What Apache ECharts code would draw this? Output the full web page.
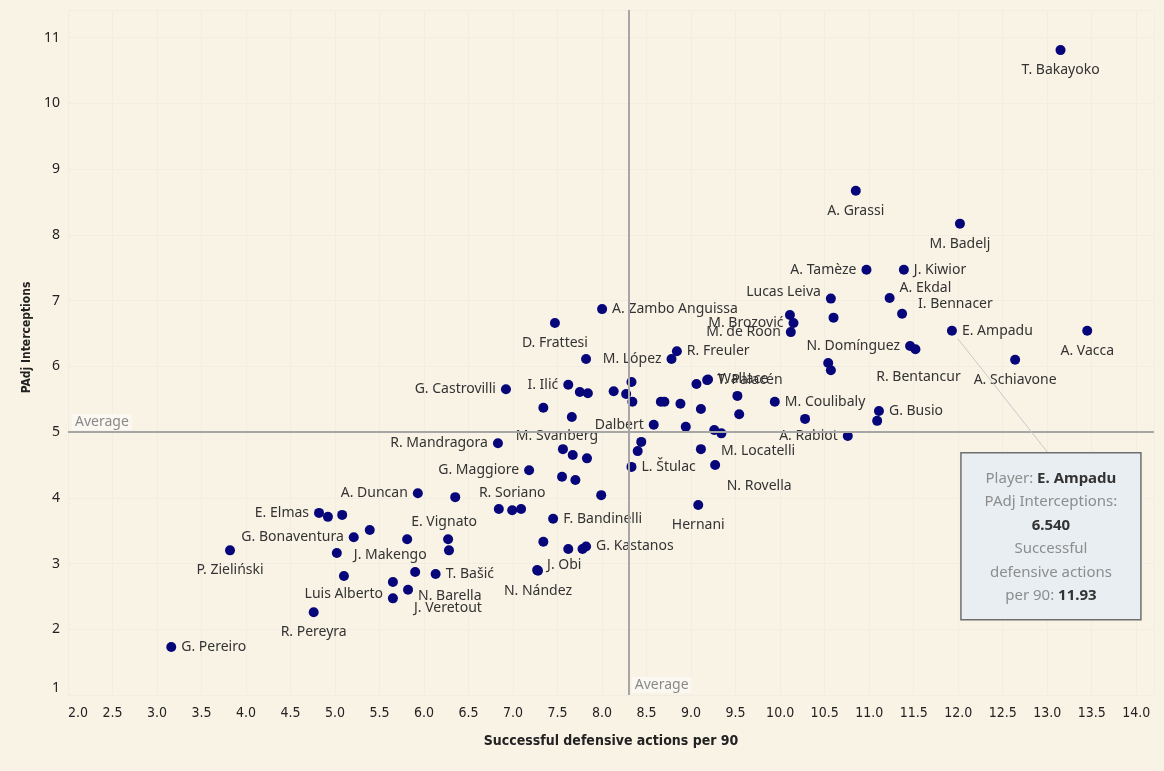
<!DOCTYPE html>
<html>
<head>
<meta charset="utf-8">
<script src="https://cdn.jsdelivr.net/npm/echarts@6/dist/echarts.min.js"></script>
<style>
  html, body { margin: 0; padding: 0; background: #f9f3e6; }
  #chart { width: 1164px; height: 771px; }
</style>
</head>
<body>
<div id="chart"></div>
<script>
// player names ('' = point shown without a label)
const players = [
  'T. Bakayoko', 'A. Grassi', 'M. Badelj', 'A. Tamèze', 'J. Kiwior', 'A. Ekdal', 'I. Bennacer', 'Lucas Leiva',
  '', '', 'M. Brozović', 'M. de Roon', 'E. Ampadu', 'A. Vacca', 'A. Schiavone', 'N. Domínguez',
  'R. Bentancur', '', '', 'M. Coulibaly', 'G. Busio', '', '', 'A. Rabiot',
  '', '', '', '', 'T. Palacén', 'Wallace', '', '',
  '', '', '', '', 'M. Locatelli', 'N. Rovella', 'Hernani', 'Dalbert',
  'L. Štulac', '', '', '', '', '', '', 'M. López',
  'R. Freuler', 'A. Zambo Anguissa', 'D. Frattesi', '', 'I. Ilić', 'G. Castrovilli', '', '',
  '', '', 'M. Svanberg', '', '', 'R. Mandragora', 'G. Maggiore', '',
  '', '', 'R. Soriano', '', '', 'A. Duncan', '', 'E. Elmas',
  '', '', 'G. Bonaventura', '', 'P. Zieliński', 'J. Makengo', 'E. Vignato', '',
  '', '', 'T. Bašić', '', 'Luis Alberto', 'N. Barella', 'J. Veretout', 'R. Pereyra',
  'G. Pereiro', 'J. Obi', 'N. Nández', 'F. Bandinelli', '', '', '', 'G. Kastanos'
];

// Successful defensive actions per 90
const defActions = [
  13.15, 10.85, 12.02, 10.97, 11.39, 11.23, 11.37, 10.57,
  10.60, 10.11, 10.15, 10.12, 11.93, 13.45, 12.64, 11.46,
  11.52, 10.54, 10.57, 9.94, 11.11, 11.09, 10.28, 10.76,
  9.52, 9.54, 9.11, 9.06, 9.18, 9.19, 8.88, 8.66,
  8.70, 8.94, 9.26, 9.34, 9.11, 9.27, 9.08, 8.58,
  8.33, 8.44, 8.40, 8.33, 8.27, 8.34, 8.13, 8.78,
  8.84, 8.00, 7.47, 7.82, 7.62, 6.92, 7.75, 7.84,
  7.34, 7.66, 7.56, 7.67, 7.83, 6.83, 7.18, 7.55,
  7.70, 7.99, 6.99, 6.84, 7.09, 5.93, 6.35, 4.82,
  4.92, 5.08, 5.21, 5.39, 3.82, 5.02, 6.27, 5.81,
  6.28, 5.10, 6.13, 5.90, 5.65, 5.82, 5.65, 4.76,
  3.16, 7.27, 7.28, 7.45, 7.34, 7.62, 7.78, 7.82
];

// PAdj Interceptions
const interceptions = [
  10.81, 8.67, 8.17, 7.47, 7.47, 7.04, 6.80, 7.03,
  6.74, 6.78, 6.66, 6.52, 6.54, 6.54, 6.10, 6.31,
  6.26, 6.05, 5.94, 5.46, 5.32, 5.17, 5.20, 4.94,
  5.55, 5.27, 5.35, 5.73, 5.79, 5.80, 5.43, 5.46,
  5.46, 5.08, 5.03, 4.98, 4.74, 4.50, 3.89, 5.11,
  4.47, 4.85, 4.71, 5.76, 5.58, 5.46, 5.62, 6.11,
  6.23, 6.87, 6.66, 6.11, 5.72, 5.65, 5.61, 5.59,
  5.37, 5.23, 4.74, 4.65, 4.60, 4.83, 4.42, 4.32,
  4.27, 4.04, 3.81, 3.83, 3.83, 4.07, 4.01, 3.77,
  3.71, 3.74, 3.40, 3.51, 3.20, 3.16, 3.37, 3.37,
  3.20, 2.81, 2.84, 2.87, 2.72, 2.60, 2.47, 2.26,
  1.73, 2.90, 2.89, 3.68, 3.33, 3.22, 3.22, 3.26
];

const avgDefActions = 8.30;
const avgInterceptions = 5.0;
const highlighted = 'E. Ampadu';

// label placement (default: right of the point)
const labelPlace = {
  'T. Bakayoko': ['bottom'], 'A. Grassi': ['bottom'], 'M. Badelj': ['bottom'], 'A. Vacca': ['bottom'],
  'A. Schiavone': ['bottom'], 'D. Frattesi': ['bottom'], 'P. Zieliński': ['bottom'], 'R. Pereyra': ['bottom'],
  'Hernani': ['bottom'], 'N. Nández': ['bottom'], 'R. Bentancur': ['bottom', [3, 8]],
  'N. Rovella': ['bottom', [44, 1]], 'J. Veretout': ['bottom', [55, -10]],
  'M. Svanberg': ['top', [-6, 4]], 'R. Soriano': ['top'], 'E. Vignato': ['top', [-4, 0]],
  'A. Tamèze': ['left'], 'M. Brozović': ['left'], 'M. de Roon': ['left'], 'N. Domínguez': ['left'],
  'A. Rabiot': ['left'], 'Dalbert': ['left'], 'M. López': ['left'], 'I. Ilić': ['left'],
  'G. Castrovilli': ['left'], 'R. Mandragora': ['left'], 'G. Maggiore': ['left'], 'A. Duncan': ['left'],
  'E. Elmas': ['left'], 'G. Bonaventura': ['left'], 'Luis Alberto': ['left', [0, 12]],
  'Lucas Leiva': ['left', [0, -7]],
  'A. Ekdal': ['right', [0, -10]], 'I. Bennacer': ['right', [6, -10]], 'N. Barella': ['right', [0, 6]],
  'J. Makengo': ['right', [7, 2]], 'M. Locatelli': ['right', [10, 2]], 'J. Obi': ['right', [0, -5]]
};

const labelFont = '"Noto Sans", sans-serif';
const titleFont = '"Liberation Sans Narrow", "DejaVu Sans Condensed", sans-serif';

const seriesData = players.map((name, i) => {
  const place = labelPlace[name] || ['right'];
  return {
    name: name,
    value: [defActions[i], interceptions[i]],
    label: {
      show: name !== '',
      position: place[0],
      offset: place[1] || [0, 0],
      distance: place[0] === 'bottom' ? 8 : 5
    }
  };
});

const chart = echarts.init(document.getElementById('chart'));

const option = {
  backgroundColor: '#f9f3e6',
  animation: false,
  grid: { left: 68, right: 10, top: 10, bottom: 76 },
  xAxis: {
    type: 'value',
    min: 2,
    max: 14.2,
    interval: 0.5,
    name: 'Successful defensive actions per 90',
    nameLocation: 'middle',
    nameGap: 39,
    nameTextStyle: { fontFamily: titleFont, fontWeight: 'bold', fontSize: 14, color: '#222' },
    axisLine: { show: false },
    axisTick: { show: false },
    axisLabel: {
      margin: 11,
      fontFamily: titleFont,
      fontSize: 14,
      color: '#222',
      alignMinLabel: 'left',
      formatter: v => (Math.abs(v * 2 - Math.round(v * 2)) < 1e-6 ? v.toFixed(1) : '')
    },
    splitLine: { lineStyle: { color: '#f2ede2', width: 1 } }
  },
  yAxis: {
    type: 'value',
    min: 1,
    max: 11.42,
    interval: 1,
    name: 'PAdj Interceptions',
    nameLocation: 'middle',
    nameGap: 22,
    nameTextStyle: { fontFamily: titleFont, fontWeight: 'bold', fontSize: 12, color: '#222', padding: [0, 0, 0, 30] },
    axisLine: { show: false },
    axisTick: { show: false },
    axisLabel: {
      margin: 8,
      fontFamily: labelFont,
      fontSize: 14,
      color: '#222',
      verticalAlignMinLabel: 'bottom',
      formatter: v => (Number.isInteger(v) ? String(v) : '')
    },
    splitLine: { lineStyle: { color: '#f2ede2', width: 1 } }
  },
  series: [{
    type: 'scatter',
    symbolSize: 10,
    itemStyle: { color: '#06067a', opacity: 1 },
    label: { fontFamily: labelFont, fontSize: 14, color: '#333', formatter: '{b}' },
    data: seriesData,
    markLine: {
      silent: true,
      symbol: 'none',
      label: { show: false },
      lineStyle: { color: '#a6a6a6', width: 2, type: 'solid' },
      data: [{ xAxis: avgDefActions }, { yAxis: avgInterceptions }]
    }
  }]
};
chart.setOption(option);

// annotations placed from the chart's own scales
const toPx = v => chart.convertToPixel({ xAxisIndex: 0, yAxisIndex: 0 }, v);
const hIdx = players.indexOf(highlighted);
const hPt = toPx([defActions[hIdx], interceptions[hIdx]]);
const hAvg = toPx([2, avgInterceptions]);
const vAvg = toPx([avgDefActions, 1]);

const boxLeft = hPt[0] + 9, boxTop = hPt[1] + 122, boxW = 180, boxH = 167;

chart.setOption({
  graphic: [
    {
      type: 'text', left: hAvg[0] + 4, top: hAvg[1] - 18, z: 10,
      style: { text: 'Average', fontFamily: labelFont, fontSize: 14, fill: '#8a8a8a', backgroundColor: '#fbf8f1', padding: [1, 3] }
    },
    {
      type: 'text', left: vAvg[0] + 3, top: vAvg[1] - 18, z: 10,
      style: { text: 'Average', fontFamily: labelFont, fontSize: 14, fill: '#8a8a8a', backgroundColor: '#fbf8f1', padding: [1, 3] }
    },
    {
      type: 'line', z: 20,
      shape: { x1: hPt[0] + 6, y1: hPt[1] + 8, x2: boxLeft + 87, y2: boxTop },
      style: { stroke: '#c8c8c8', lineWidth: 1 }
    },
    {
      type: 'rect', z: 21,
      shape: { x: boxLeft, y: boxTop, width: boxW, height: boxH },
      style: { fill: '#e8eef2', stroke: '#6f6f6f', lineWidth: 1.5 }
    },
    {
      type: 'text', z: 22,
      x: boxLeft + boxW / 2, y: boxTop + 14,
      style: {
        text: '{l|Player: }{v|' + highlighted + '}\n{l|PAdj Interceptions:}\n{v|' + interceptions[hIdx].toFixed(3) + '}\n{l|Successful}\n{l|defensive actions}\n{l|per 90: }{v|' + defActions[hIdx].toFixed(2) + '}',
        align: 'center',
        verticalAlign: 'top',
        lineHeight: 23.5,
        rich: {
          l: { fontFamily: labelFont, fontSize: 15, fill: '#8d8d8d', lineHeight: 23.5 },
          v: { fontFamily: labelFont, fontSize: 15, fill: '#333', fontWeight: 'bold', lineHeight: 23.5 }
        }
      }
    }
  ]
});
</script>
</body>
</html>
